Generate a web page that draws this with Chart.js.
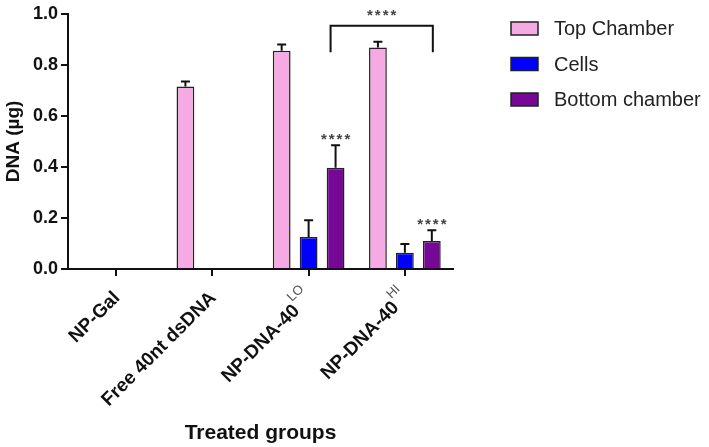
<!DOCTYPE html>
<html>
<head>
<meta charset="utf-8">
<script src="https://cdn.jsdelivr.net/npm/chart.js@4.4.1/dist/chart.umd.min.js"></script>
<style>
  html, body { margin: 0; padding: 0; background: #fff; }
  canvas { display: block; }
</style>
</head>
<body>
<canvas id="dnaChart" width="709" height="447"></canvas>
<script>
// groups on the x axis, superscript part after '^'
const groups = ['NP-Gal', 'Free 40nt dsDNA', 'NP-DNA-40^LO', 'NP-DNA-40^HI'];

const topChamber = [0, 0.715, 0.855, 0.868];
const topChamberErr = [0, 0.02, 0.025, 0.022];
const cells = [0, 0, 0.125, 0.064];
const cellsErr = [0, 0, 0.066, 0.034];
const bottomChamber = [0, 0, 0.397, 0.11];
const bottomChamberErr = [0, 0, 0.088, 0.042];

const yTicks = [0, 0.2, 0.4, 0.6, 0.8, 1.0];

// significance marks: [dataset index, group index]
const starMarks = [[2, 2], [2, 3]];
// bracket between LO and HI bottom chamber, in DNA units
const bracketFrom = [2, 2];
const bracketTo = [2, 3];
const bracketTop = 0.953;
const bracketEnd = 0.849;

const errors = [topChamberErr, cellsErr, bottomChamberErr];

function drawStars(ctx, x, baseline) {
  ctx.save();
  ctx.fillStyle = '#444';
  ctx.font = 'bold 15px "Liberation Sans", Arial';
  ctx.textAlign = 'center';
  ctx.textBaseline = 'alphabetic';
  ctx.letterSpacing = '2px';
  ctx.fillText('****', x + 1, baseline);
  ctx.restore();
}

const extras = {
  id: 'extras',
  afterDatasetsDraw(chart) {
    const ctx = chart.ctx;
    const y = chart.scales.y;
    const x = chart.scales.x;

    // error bars (upper only)
    ctx.save();
    ctx.strokeStyle = '#111';
    ctx.lineWidth = 2;
    chart.data.datasets.forEach((ds, i) => {
      const meta = chart.getDatasetMeta(i);
      meta.data.forEach((bar, j) => {
        const v = ds.data[j];
        const e = errors[i][j];
        if (!v || !e) return;
        const yTop = y.getPixelForValue(v + e);
        ctx.beginPath();
        ctx.moveTo(bar.x, bar.y);
        ctx.lineTo(bar.x, yTop);
        ctx.moveTo(bar.x - 4.5, yTop);
        ctx.lineTo(bar.x + 4.5, yTop);
        ctx.stroke();
      });
    });
    ctx.restore();

    // stars over bottom chamber bars
    starMarks.forEach(([i, j]) => {
      const bar = chart.getDatasetMeta(i).data[j];
      const v = chart.data.datasets[i].data[j] + errors[i][j];
      drawStars(ctx, bar.x, y.getPixelForValue(v) - 1);
    });

    // bracket
    const b1 = chart.getDatasetMeta(bracketFrom[0]).data[bracketFrom[1]];
    const b2 = chart.getDatasetMeta(bracketTo[0]).data[bracketTo[1]];
    const yt = y.getPixelForValue(bracketTop);
    const ye = y.getPixelForValue(bracketEnd);
    const xl = b1.x - 5;
    const xr = b2.x + 1;
    ctx.save();
    ctx.strokeStyle = '#111';
    ctx.lineWidth = 2;
    ctx.beginPath();
    ctx.moveTo(xl, ye);
    ctx.lineTo(xl, yt);
    ctx.lineTo(xr, yt);
    ctx.lineTo(xr, ye);
    ctx.stroke();
    ctx.restore();
    drawStars(ctx, (xl + xr) / 2, yt - 6);

    // x labels, rotated 45 degrees, with superscripts
    groups.forEach((g, j) => {
      const parts = g.split('^');
      const main = parts[0];
      const sup = parts[1] || '';
      const px = x.getPixelForValue(j) + 1;
      const py = 295;
      ctx.save();
      ctx.translate(px, py);
      ctx.rotate(-Math.PI / 4);
      ctx.font = '13px "Liberation Sans", Arial';
      const wSup = sup ? ctx.measureText(sup).width + 1 : 0;
      ctx.font = 'bold 19px "Liberation Sans", Arial';
      const wMain = ctx.measureText(main).width;
      ctx.textBaseline = 'middle';
      ctx.textAlign = 'left';
      ctx.fillStyle = '#111';
      ctx.fillText(main, -wMain - wSup, 0);
      if (sup) {
        ctx.font = '13px "Liberation Sans", Arial';
        ctx.fillStyle = '#555';
        ctx.fillText(sup, -wSup + 1, -11);
      }
      ctx.restore();
    });

    // legend
    ctx.save();
    chart.data.datasets.forEach((ds, i) => {
      const cy = 28.5 + i * 35.5;
      ctx.fillStyle = ds.backgroundColor;
      ctx.fillRect(511, cy - 6.5, 27, 13);
      ctx.strokeStyle = '#222';
      ctx.lineWidth = 1.5;
      ctx.strokeRect(511, cy - 6.5, 27, 13);
      ctx.fillStyle = '#222';
      ctx.font = '20px "Liberation Sans", Arial';
      ctx.textAlign = 'left';
      ctx.textBaseline = 'middle';
      ctx.fillText(ds.label, 554, cy + 1);
    });
    ctx.restore();
  }
};

new Chart(document.getElementById('dnaChart'), {
  type: 'bar',
  data: {
    labels: groups,
    datasets: [
      { label: 'Top Chamber', data: topChamber, backgroundColor: '#F5AAE4' },
      { label: 'Cells', data: cells, backgroundColor: '#0000FF' },
      { label: 'Bottom chamber', data: bottomChamber, backgroundColor: '#770797' }
    ].map(d => Object.assign(d, {
      borderColor: '#222',
      borderWidth: 1.5,
      borderSkipped: 'start',
      categoryPercentage: 0.84,
      barPercentage: 0.66
    }))
  },
  options: {
    responsive: false,
    animation: false,
    devicePixelRatio: 1,
    layout: { padding: { left: 0, top: 11, right: 256, bottom: 0 } },
    plugins: {
      legend: { display: false },
      tooltip: { enabled: false }
    },
    scales: {
      x: {
        offset: true,
        grid: { offset: false, drawOnChartArea: false, drawTicks: true, tickLength: 7, color: '#111', lineWidth: 2 },
        border: { color: '#111', width: 2 },
        ticks: { display: false },
        title: {
          display: true,
          text: 'Treated groups',
          color: '#111',
          font: { family: '"Liberation Sans", Arial', size: 21, weight: 'bold' },
          padding: { top: 0, bottom: 1 }
        },
        afterFit(scale) { scale.height = 178; }
      },
      y: {
        min: 0,
        max: 1,
        afterBuildTicks(scale) { scale.ticks = yTicks.map(v => ({ value: v })); },
        grid: { drawOnChartArea: false, drawTicks: true, tickLength: 7, color: '#111', lineWidth: 2 },
        border: { color: '#111', width: 2 },
        ticks: {
          color: '#111',
          padding: 3,
          font: { family: '"Liberation Sans", Arial', size: 18, weight: 'bold' },
          callback: v => v.toFixed(1)
        },
        title: {
          display: true,
          text: 'DNA (µg)',
          color: '#111',
          font: { family: '"Liberation Sans", Arial', size: 19, weight: 'bold' },
          padding: { top: 2, bottom: 0 }
        },
        afterFit(scale) { scale.width = 68; }
      }
    }
  },
  plugins: [extras]
});
</script>
</body>
</html>
